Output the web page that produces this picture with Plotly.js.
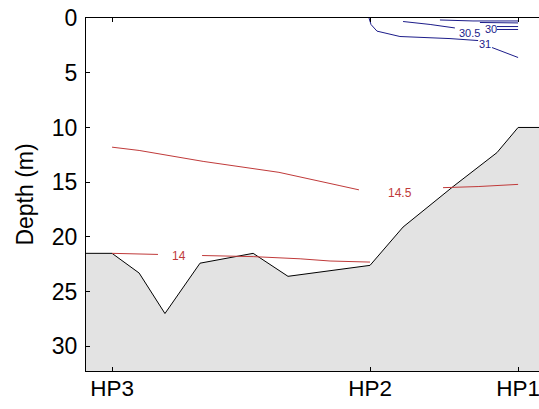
<!DOCTYPE html>
<html>
<head>
<meta charset="utf-8">
<script src="https://cdn.plot.ly/plotly-3.0.1.min.js"></script>
<style>html,body{margin:0;padding:0;background:#fff;}#chart{width:539px;height:409px;}</style>
</head>
<body>
<div id="chart"></div>
<script>
// Stations along the section (distance units)
const stations = ['HP3', 'HP2', 'HP1'];
const stationDist = [0, 10, 15.74];

// Seabed profile
const bedDist  = [-1.01, 0, 1.05, 2.05, 3.41, 5.47, 6.82, 10, 11.28, 13.22, 14.92, 15.74, 16.55];
const bedDepth = [21.5, 21.5, 23.3, 27.0, 22.4, 21.5, 23.6, 22.6, 19.1, 15.4, 12.3, 10.0, 10.0];

// Temperature contours (red)
const c145Dist  = [0, 1.05, 3.53, 6.47, 8.80, 9.57, null, 12.83, 14.19, 15.74];
const c145Depth = [11.8, 12.1, 13.1, 14.1, 15.3, 15.7, null, 15.5, 15.4, 15.2];
const c14Dist   = [0, 1.78, null, 3.49, 5.47, 7.29, 8.45, 10];
const c14Depth  = [21.5, 21.6, null, 21.7, 21.8, 22.0, 22.2, 22.3];

// Salinity contours (blue)
const c31Dist   = [9.96, 10.04, 10.27, 11.16, 13.10, 13.29, 14.19, null, 14.73, 15.23, 15.74];
const c31Depth  = [0, 0.6, 1.2, 1.69, 1.88, 1.9, 2.06, null, 2.70, 3.16, 3.61];
const c305Dist  = [11.28, 12.33, 13.29, null, 14.92, 15.74];
const c305Depth = [0.32, 0.59, 0.91, null, 1.05, 1.05];
const c30Dist   = [12.71, 13.99, 15.74, null, 14.26, 15.74, null, 14.92, 15.74];
const c30Depth  = [0.18, 0.27, 0.27, null, 0.41, 0.45, null, 0.78, 0.78];

// Contour labels
const labelText  = ['14.5', '14', '30.5', '30', '31'];
const labelDist  = [11.16, 2.60, 13.84, 14.69, 14.46];
const labelDepth = [16.0, 21.7, 1.33, 1.05, 2.42];
const labelKind  = ['t', 't', 's', 's', 's'];

const maxDepth = 40;
const red = '#c03a3a';
const blue = '#1c1c8a';

const traces = [
  {x: bedDist.concat([bedDist[bedDist.length-1], bedDist[0]]),
   y: bedDepth.concat([maxDepth, maxDepth]),
   mode: 'lines', fill: 'toself', fillcolor: '#e3e3e3',
   line: {width: 0, color: 'rgba(0,0,0,0)'}, hoverinfo: 'skip'},
  {x: bedDist, y: bedDepth, mode: 'lines', line: {color: '#000', width: 1}},
  {x: c145Dist, y: c145Depth, mode: 'lines', line: {color: red, width: 1}},
  {x: c14Dist, y: c14Depth, mode: 'lines', line: {color: red, width: 1}},
  {x: c31Dist, y: c31Depth, mode: 'lines', line: {color: blue, width: 1}},
  {x: c305Dist, y: c305Depth, mode: 'lines', line: {color: blue, width: 1}},
  {x: c30Dist, y: c30Depth, mode: 'lines', line: {color: blue, width: 1}}
];

const annotations = labelText.map((t, i) => ({
  x: labelDist[i], y: labelDepth[i], text: t, showarrow: false,
  xanchor: 'center', yanchor: 'middle',
  font: {family: 'Liberation Sans, Arial, sans-serif', size: labelKind[i] === 't' ? 12 : 11,
         color: labelKind[i] === 't' ? red : blue}
}));

const layout = {
  width: 539, height: 409,
  margin: {l: 86, r: 0, t: 18, b: 38},
  paper_bgcolor: '#fff', plot_bgcolor: '#fff',
  showlegend: false,
  font: {family: 'Liberation Sans, Arial, sans-serif', size: 23, color: '#000'},
  xaxis: {
    range: [-1.01, 16.55], tickvals: stationDist, ticktext: stations,
    showgrid: false, zeroline: false, showline: true, linecolor: '#000', linewidth: 1,
    mirror: 'ticks', ticks: 'inside', ticklen: 4, tickcolor: '#000',
    tickfont: {size: 22.5}, ticklabelstandoff: -3, ticklabeloverflow: 'allow'
  },
  yaxis: {
    range: [32.25, 0], tickvals: [0, 5, 10, 15, 20, 25, 30],
    showgrid: false, zeroline: false, showline: true, linecolor: '#000', linewidth: 1,
    ticks: 'inside', ticklen: 4, tickcolor: '#000',
    tickfont: {size: 23}, ticklabelstandoff: 3, ticklabeloverflow: 'allow',
    title: {text: 'Depth (m)', font: {size: 23}, standoff: 11}
  },
  annotations: annotations
};

Plotly.newPlot('chart', traces, layout, {displayModeBar: false, staticPlot: true});
</script>
</body>
</html>
